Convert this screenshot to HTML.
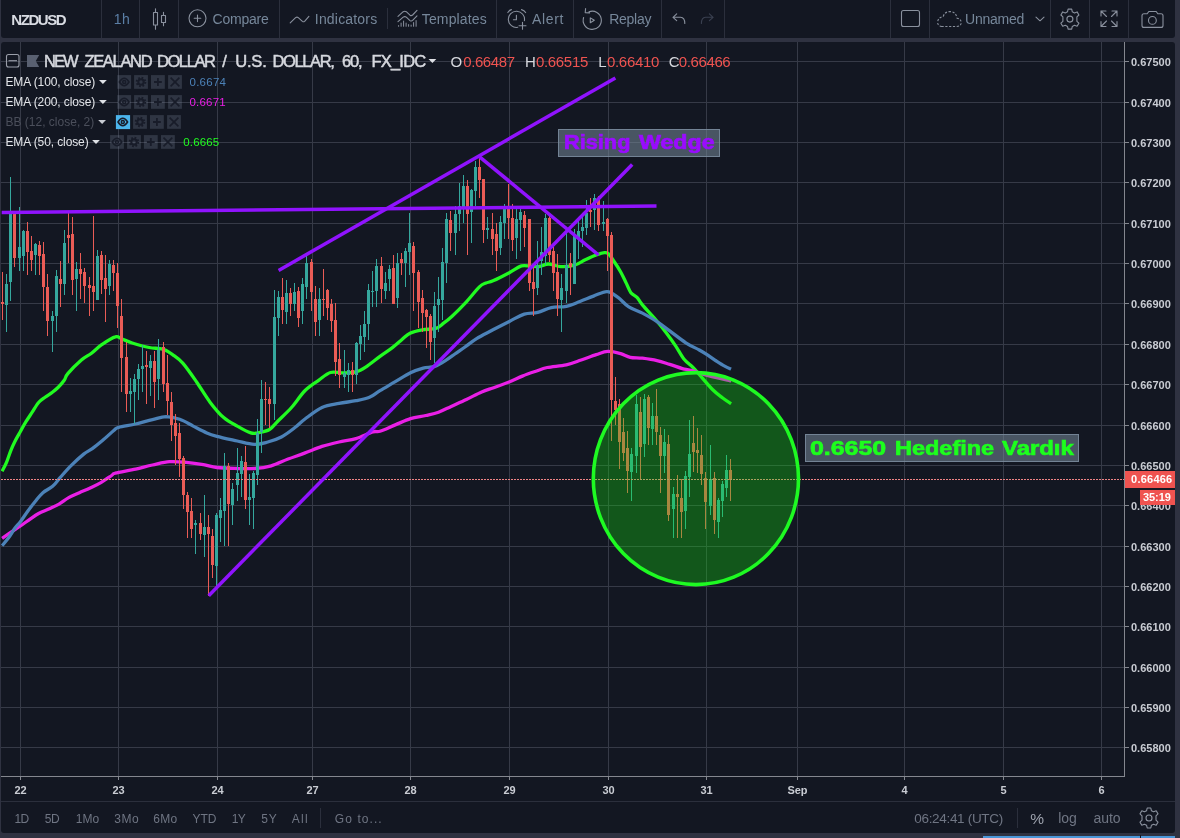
<!DOCTYPE html>
<html><head><meta charset="utf-8"><title>NZDUSD</title>
<style>
*{margin:0;padding:0;box-sizing:border-box}
html,body{width:1180px;height:838px;overflow:hidden;background:#2f3241}
body{position:relative;font-family:"Liberation Sans",sans-serif;color:#d1d4dc}
.panel{position:absolute;background:#131722}
.t{position:absolute;white-space:nowrap;line-height:1;transform-origin:0 50%}
.tb{color:#758696;font-size:14px}
.pl{position:absolute;left:1131px;font-size:11px;font-weight:bold;color:#c9ccd3;line-height:12px;height:12px}
.tl{position:absolute;top:784px;width:41px;text-align:center;font-size:11px;font-weight:bold;color:#c9ccd3;line-height:13px}
.sep{position:absolute;top:0;width:1px;height:38px;background:#2b2f3c}
.ic{position:absolute}
.bt{color:#787b86;font-size:13px}
.lg{font-size:12px;font-weight:bold;color:#d6d8de}
#wrap{position:absolute;left:0;top:0;width:1180px;height:838px;will-change:transform}
</style></head><body><div id="wrap">
<!-- top toolbar -->
<div class="panel" style="left:1px;top:0;width:1174px;height:38px;border-radius:0 0 3px 3px"></div>
<!-- chart panel -->
<div class="panel" style="left:1px;top:42px;width:1174px;height:791px;border-radius:3px"></div>
<svg id="chart" width="1180" height="838" viewBox="0 0 1180 838" style="position:absolute;left:0;top:0">
<defs><clipPath id="cp"><rect x="1" y="42" width="1123.5" height="734"/></clipPath></defs>
<g shape-rendering="crispEdges" stroke="#363a47" stroke-width="1"><line x1="20.5" y1="42" x2="20.5" y2="776"/><line x1="118.5" y1="42" x2="118.5" y2="776"/><line x1="217.5" y1="42" x2="217.5" y2="776"/><line x1="312.5" y1="42" x2="312.5" y2="776"/><line x1="410.5" y1="42" x2="410.5" y2="776"/><line x1="509.5" y1="42" x2="509.5" y2="776"/><line x1="608.5" y1="42" x2="608.5" y2="776"/><line x1="706.5" y1="42" x2="706.5" y2="776"/><line x1="797.5" y1="42" x2="797.5" y2="776"/><line x1="904.5" y1="42" x2="904.5" y2="776"/><line x1="1003.5" y1="42" x2="1003.5" y2="776"/><line x1="1101.5" y1="42" x2="1101.5" y2="776"/><line x1="1" y1="61.5" x2="1124" y2="61.5"/><line x1="1" y1="102.5" x2="1124" y2="102.5"/><line x1="1" y1="142.5" x2="1124" y2="142.5"/><line x1="1" y1="182.5" x2="1124" y2="182.5"/><line x1="1" y1="223.5" x2="1124" y2="223.5"/><line x1="1" y1="263.5" x2="1124" y2="263.5"/><line x1="1" y1="303.5" x2="1124" y2="303.5"/><line x1="1" y1="344.5" x2="1124" y2="344.5"/><line x1="1" y1="384.5" x2="1124" y2="384.5"/><line x1="1" y1="425.5" x2="1124" y2="425.5"/><line x1="1" y1="465.5" x2="1124" y2="465.5"/><line x1="1" y1="505.5" x2="1124" y2="505.5"/><line x1="1" y1="546.5" x2="1124" y2="546.5"/><line x1="1" y1="586.5" x2="1124" y2="586.5"/><line x1="1" y1="626.5" x2="1124" y2="626.5"/><line x1="1" y1="667.5" x2="1124" y2="667.5"/><line x1="1" y1="707.5" x2="1124" y2="707.5"/><line x1="1" y1="747.5" x2="1124" y2="747.5"/></g>
<g clip-path="url(#cp)">
<path d="M2.1 471.2C2.8 469.8 5.0 466.1 6.4 462.7C7.8 459.3 9.3 454.4 10.7 450.8C12.1 447.2 13.4 444.4 15.0 441.2C16.6 438.0 18.6 434.7 20.4 431.5C22.2 428.3 23.8 425.1 25.8 421.9C27.8 418.7 30.1 415.4 32.2 412.2C34.3 409.0 36.5 405.0 38.6 402.5C40.8 400.0 43.0 398.8 45.1 397.2C47.2 395.6 49.4 394.5 51.5 392.9C53.6 391.3 55.9 389.6 58.0 387.5C60.1 385.4 62.8 382.3 64.4 380.0C66.0 377.7 65.0 376.9 67.8 373.6C70.6 370.3 77.5 363.4 81.4 360.0C85.4 356.6 88.1 355.8 91.5 353.2C94.9 350.6 97.7 347.4 101.7 344.7C105.7 342.0 111.9 337.8 115.3 336.9C118.7 335.9 119.2 338.0 122.0 339.0C124.8 340.0 127.7 341.6 132.2 343.0C136.7 344.4 144.1 346.5 149.2 347.5C154.3 348.5 158.8 348.0 162.7 349.2C166.6 350.4 169.5 352.5 172.9 354.9C176.3 357.3 179.1 358.9 183.0 363.4C186.9 367.9 192.1 375.5 196.6 382.0C201.1 388.5 205.7 396.5 210.2 402.4C214.7 408.3 219.2 413.7 223.7 417.6C228.2 421.6 232.8 423.6 237.3 426.1C241.8 428.7 247.4 431.8 250.8 432.9C254.2 434.0 254.5 433.5 257.6 432.9C260.7 432.3 266.1 431.5 269.5 429.5C272.9 427.5 274.3 424.7 278.0 421.0C281.7 417.3 287.0 412.6 291.5 407.5C296.0 402.4 300.6 395.0 305.1 390.5C309.6 386.0 314.4 383.3 318.6 380.3C322.8 377.3 326.5 373.7 330.5 372.5C334.5 371.3 338.2 373.0 342.4 372.9C346.6 372.8 351.9 372.9 355.9 371.9C359.8 370.9 362.1 369.4 366.1 366.8C370.1 364.2 375.6 359.5 380.0 356.3C384.4 353.1 389.0 350.2 392.7 347.4C396.4 344.6 399.1 341.9 402.0 339.5C404.9 337.1 406.6 334.8 410.0 333.2C413.4 331.6 417.9 330.6 422.2 329.8C426.5 329.0 432.2 329.5 435.8 328.4C439.4 327.3 440.9 325.2 443.6 323.2C446.3 321.2 448.4 319.6 452.1 316.2C455.8 312.8 461.1 307.5 465.7 302.6C470.2 297.7 476.0 290.2 479.4 286.9C482.8 283.6 483.7 284.0 486.0 283.0C488.3 282.0 489.1 282.5 493.0 280.8C496.9 279.1 504.6 275.2 509.3 272.7C514.0 270.2 517.9 267.0 521.5 265.9C525.1 264.8 528.0 266.2 531.0 266.3C534.0 266.4 536.3 266.9 539.2 266.5C542.1 266.1 545.0 264.0 548.6 264.0C552.2 264.0 556.5 266.4 560.8 266.6C565.1 266.8 570.3 266.3 574.4 265.2C578.5 264.1 581.7 261.5 585.3 259.8C588.9 258.1 593.0 256.2 596.2 255.0C599.4 253.8 602.4 252.9 604.4 252.7C606.4 252.5 606.8 252.3 608.4 253.7C610.0 255.1 611.8 258.1 613.9 261.2C616.0 264.2 618.7 268.4 620.7 272.0C622.7 275.6 624.4 279.4 626.1 282.9C627.8 286.3 629.1 290.3 630.9 292.7C632.7 295.1 635.1 295.4 637.0 297.4C638.9 299.4 639.1 300.9 642.4 304.9C645.7 308.9 652.9 316.4 657.0 321.2C661.1 326.0 664.0 329.8 667.1 333.9C670.2 338.0 672.8 341.6 675.6 345.8C678.4 350.0 681.3 355.8 684.1 359.3C686.9 362.8 690.0 364.5 692.5 367.0C695.0 369.5 695.7 370.4 699.0 374.2C702.3 377.9 708.5 385.5 712.5 389.5C716.5 393.5 719.6 395.6 722.7 398.0C725.8 400.4 729.8 402.8 731.2 403.7" fill="none" stroke="#21fb21" stroke-width="3.3" stroke-linejoin="round" stroke-linecap="butt"/>
<path d="M2.1 538.4C3.5 537.4 7.7 534.5 10.7 532.4C13.7 530.3 17.2 528.2 20.4 526.0C23.6 523.8 27.1 521.2 30.1 519.1C33.1 517.0 35.4 515.2 38.6 513.5C41.8 511.8 46.0 510.4 49.4 508.8C52.8 507.2 55.8 506.0 59.0 504.1C62.2 502.2 65.3 499.5 68.7 497.6C72.1 495.7 75.8 494.3 79.4 492.7C83.0 491.1 86.6 489.7 90.2 488.0C93.8 486.3 97.3 484.7 100.9 482.6C104.5 480.5 109.2 477.1 111.6 475.5C114.0 473.9 111.3 474.2 115.3 473.2C119.3 472.1 129.4 470.6 135.6 469.2C141.8 467.8 146.8 466.2 152.5 465.0C158.2 463.8 163.8 462.1 169.5 461.7C175.2 461.3 180.8 461.9 186.4 462.4C192.1 462.9 198.3 463.8 203.4 464.7C208.5 465.6 211.3 466.9 217.0 467.5C222.7 468.1 231.1 468.3 237.3 468.5C243.5 468.7 248.5 468.9 254.2 468.5C259.8 468.1 265.5 467.4 271.2 465.8C276.9 464.2 282.5 461.1 288.1 459.0C293.8 456.9 299.5 455.0 305.1 452.9C310.8 450.8 316.4 448.2 322.0 446.4C327.6 444.6 333.3 443.3 339.0 442.0C344.7 440.7 350.4 440.3 356.0 438.6C361.6 436.9 368.9 433.1 372.9 431.9C376.9 430.7 376.3 432.5 380.0 431.3C383.7 430.1 390.2 427.0 395.3 424.9C400.4 422.8 405.4 420.2 410.5 418.6C415.6 417.0 421.1 416.6 425.8 415.5C430.5 414.4 434.3 413.7 438.5 412.2C442.7 410.7 446.6 408.5 451.2 406.4C455.8 404.3 461.3 401.9 466.4 399.5C471.5 397.1 477.0 393.9 481.7 391.9C486.4 389.9 489.7 389.2 494.4 387.5C499.1 385.8 505.0 383.6 509.7 381.7C514.4 379.8 518.2 377.8 522.4 376.1C526.6 374.4 531.0 372.9 535.1 371.5C539.2 370.1 542.0 368.6 547.2 367.5C552.4 366.4 560.6 366.1 566.3 364.8C572.0 363.6 576.2 361.7 581.2 360.0C586.2 358.3 591.8 356.0 596.2 354.6C600.6 353.2 603.7 351.6 607.8 351.4C611.9 351.2 617.0 352.6 620.7 353.6C624.4 354.6 626.6 356.5 630.2 357.3C633.8 358.1 637.9 357.6 642.4 358.2C646.9 358.8 652.5 359.6 657.0 360.6C661.5 361.6 665.5 363.1 669.7 364.4C673.9 365.7 678.9 367.6 682.4 368.6C685.9 369.6 686.3 369.1 690.8 370.3C695.3 371.5 702.5 374.1 709.2 375.9C715.9 377.7 727.5 380.1 731.2 381.0" fill="none" stroke="#ea1fe6" stroke-width="3.3" stroke-linejoin="round" stroke-linecap="butt"/>
<path d="M2.1 545.7C3.2 544.4 6.4 540.7 8.6 537.8C10.8 534.9 13.0 530.8 15.0 528.1C17.0 525.4 18.2 524.6 20.4 521.7C22.5 518.9 25.4 514.4 27.9 511.0C30.4 507.6 32.9 504.4 35.4 501.3C37.9 498.2 40.0 495.2 42.9 492.7C45.8 490.2 49.7 488.8 52.6 486.3C55.5 483.8 57.1 481.1 60.1 477.7C63.1 474.3 66.9 469.8 70.8 465.9C74.7 462.0 80.1 457.0 83.7 454.1C87.3 451.2 89.1 451.0 92.3 448.7C95.5 446.4 99.4 443.1 103.0 440.1C106.6 437.1 111.2 432.6 113.8 430.5C116.4 428.4 115.0 428.4 118.6 427.3C122.2 426.2 129.9 425.3 135.6 424.0C141.2 422.7 147.4 420.8 152.5 419.6C157.6 418.4 161.5 416.7 166.0 416.6C170.5 416.6 175.2 417.7 179.7 419.3C184.2 420.9 188.7 423.8 193.2 426.1C197.7 428.4 202.8 431.2 206.8 432.9C210.8 434.6 211.9 434.9 217.0 436.3C222.1 437.7 231.1 439.6 237.3 441.0C243.5 442.4 249.1 444.2 254.2 444.4C259.3 444.6 263.3 443.2 267.8 442.0C272.3 440.8 276.9 439.4 281.4 437.0C285.9 434.6 291.1 430.5 295.0 427.5C298.9 424.5 300.5 422.3 305.0 419.0C309.5 415.7 316.3 410.1 322.0 407.5C327.7 404.9 333.3 404.5 339.0 403.4C344.7 402.3 350.9 401.7 356.0 400.7C361.1 399.7 365.5 399.0 369.5 397.3C373.5 395.6 375.7 393.2 380.0 390.6C384.3 388.0 390.2 384.7 395.3 381.7C400.4 378.7 405.9 375.1 410.5 372.8C415.1 370.6 419.2 369.3 423.2 368.2C427.2 367.1 430.9 367.8 434.7 366.4C438.5 365.0 442.7 362.2 446.1 360.1C449.5 358.0 451.8 356.2 454.9 354.0C458.0 351.8 461.4 349.6 465.0 347.0C468.6 344.4 471.9 341.5 476.6 338.6C481.3 335.7 487.6 332.7 493.0 329.8C498.4 326.9 504.1 324.0 509.3 321.4C514.5 318.8 519.6 315.6 524.3 314.1C529.0 312.6 533.2 313.5 537.7 312.4C542.2 311.3 546.5 308.6 551.3 307.6C556.1 306.6 561.5 307.3 566.3 306.3C571.1 305.3 575.4 303.2 579.9 301.5C584.4 299.8 589.0 297.8 593.5 296.1C598.0 294.5 603.0 291.4 607.1 291.6C611.2 291.8 614.4 294.8 618.0 297.4C621.6 299.9 624.7 304.3 628.8 306.9C632.9 309.5 637.7 310.7 642.4 313.1C647.1 315.6 652.5 318.6 657.0 321.6C661.5 324.6 664.9 327.4 669.7 330.9C674.5 334.4 680.9 339.6 685.8 342.8C690.7 346.0 695.6 347.9 699.3 350.0C703.0 352.1 705.0 353.3 707.8 355.1C710.6 356.9 713.5 359.2 716.3 361.0C719.1 362.8 722.2 364.8 724.7 366.1C727.2 367.5 730.0 368.6 731.1 369.1" fill="none" stroke="#4c82b8" stroke-width="3.3" stroke-linejoin="round" stroke-linecap="butt"/>
<path shape-rendering="crispEdges" fill="#35a79d" d="M6 274h1v58h-1zM5 284h3v21h-3zM10 177h1v124h-1zM9 214h3v68h-3zM19 207h1v64h-1zM18 247h3v11h-3zM23 230h1v41h-1zM22 231h3v25h-3zM35 243h1v32h-1zM34 244h3v11h-3zM52 311h1v41h-1zM51 316h3v5h-3zM56 270h1v62h-1zM55 276h3v40h-3zM64 230h1v65h-1zM63 243h3v41h-3zM76 262h1v49h-1zM75 269h3v10h-3zM97 250h1v50h-1zM96 256h3v44h-3zM109 260h1v35h-1zM108 264h3v22h-3zM130 378h1v34h-1zM129 391h3v3h-3zM134 374h1v50h-1zM133 379h3v13h-3zM138 364h1v36h-1zM137 369h3v10h-3zM142 345h1v47h-1zM141 366h3v3h-3zM150 355h1v41h-1zM149 361h3v7h-3zM158 339h1v61h-1zM157 350h3v29h-3zM195 520h1v34h-1zM194 523h3v2h-3zM204 495h1v62h-1zM203 527h3v8h-3zM216 513h1v73h-1zM215 515h3v51h-3zM220 498h1v44h-1zM219 510h3v8h-3zM224 453h1v93h-1zM223 466h3v45h-3zM232 483h1v42h-1zM231 489h3v16h-3zM237 448h1v53h-1zM236 473h3v12h-3zM241 456h1v41h-1zM240 461h3v13h-3zM249 474h1v51h-1zM248 497h3v3h-3zM253 471h1v58h-1zM252 473h3v25h-3zM257 419h1v66h-1zM256 433h3v42h-3zM261 380h1v73h-1zM260 399h3v33h-3zM274 290h1v130h-1zM273 317h3v87h-3zM278 291h1v45h-1zM277 297h3v21h-3zM286 280h1v44h-1zM285 293h3v19h-3zM294 283h1v28h-1zM293 292h3v12h-3zM302 278h1v46h-1zM301 284h3v27h-3zM306 256h1v43h-1zM305 263h3v24h-3zM319 288h1v48h-1zM318 299h3v21h-3zM344 350h1v38h-1zM343 373h3v4h-3zM348 363h1v29h-1zM347 370h3v5h-3zM356 342h1v42h-1zM355 343h3v32h-3zM360 325h1v35h-1zM359 336h3v8h-3zM364 311h1v41h-1zM363 324h3v13h-3zM368 284h1v56h-1zM367 290h3v34h-3zM372 271h1v36h-1zM371 291h3v1h-3zM376 259h1v48h-1zM375 266h3v25h-3zM385 272h1v27h-1zM384 283h3v8h-3zM389 265h1v26h-1zM388 269h3v10h-3zM397 253h1v55h-1zM396 263h3v35h-3zM405 248h1v39h-1zM404 251h3v12h-3zM409 213h1v62h-1zM408 243h3v9h-3zM434 292h1v71h-1zM433 306h3v32h-3zM438 277h1v55h-1zM437 299h3v6h-3zM442 248h1v72h-1zM441 262h3v38h-3zM446 213h1v70h-1zM445 219h3v44h-3zM455 206h1v49h-1zM454 214h3v19h-3zM459 183h1v48h-1zM458 206h3v8h-3zM463 175h1v48h-1zM462 186h3v21h-3zM471 189h1v54h-1zM470 190h3v22h-3zM475 161h1v45h-1zM474 167h3v24h-3zM487 217h1v22h-1zM486 228h3v2h-3zM500 216h1v39h-1zM499 222h3v26h-3zM504 204h1v35h-1zM503 209h3v14h-3zM516 209h1v50h-1zM515 219h3v19h-3zM520 209h1v42h-1zM519 212h3v8h-3zM537 241h1v54h-1zM536 265h3v23h-3zM541 227h1v48h-1zM540 252h3v9h-3zM545 214h1v51h-1zM544 218h3v38h-3zM561 274h1v58h-1zM560 288h3v12h-3zM566 232h1v71h-1zM565 265h3v26h-3zM574 229h1v55h-1zM573 235h3v49h-3zM578 221h1v38h-1zM577 231h3v7h-3zM582 216h1v31h-1zM581 227h3v4h-3zM586 200h1v35h-1zM585 213h3v15h-3zM594 194h1v36h-1zM593 198h3v12h-3zM603 201h1v30h-1zM602 222h3v2h-3zM631 448h1v53h-1zM630 454h3v18h-3zM636 395h1v78h-1zM635 404h3v52h-3zM644 394h1v63h-1zM643 399h3v45h-3zM652 403h1v42h-1zM651 416h3v13h-3zM664 429h1v44h-1zM663 442h3v14h-3zM673 487h1v51h-1zM672 494h3v15h-3zM685 471h1v58h-1zM684 476h3v35h-3zM689 420h1v77h-1zM688 454h3v23h-3zM710 445h1v70h-1zM709 479h3v27h-3zM718 498h1v40h-1zM717 500h3v22h-3zM722 481h1v36h-1zM721 484h3v17h-3zM726 455h1v42h-1zM725 470h3v18h-3z"/>
<path shape-rendering="crispEdges" fill="#ea5c56" d="M2 272h1v48h-1zM1 302h3v2h-3zM14 214h1v53h-1zM13 214h3v44h-3zM27 222h1v53h-1zM26 231h3v21h-3zM31 236h1v35h-1zM30 251h3v9h-3zM39 241h1v34h-1zM38 245h3v11h-3zM43 242h1v69h-1zM42 254h3v33h-3zM47 274h1v62h-1zM46 287h3v34h-3zM60 261h1v46h-1zM59 279h3v5h-3zM68 213h1v50h-1zM67 235h3v3h-3zM72 217h1v78h-1zM71 234h3v46h-3zM80 253h1v46h-1zM79 269h3v5h-3zM84 268h1v35h-1zM83 272h3v14h-3zM89 277h1v39h-1zM88 285h3v3h-3zM93 216h1v95h-1zM92 286h3v6h-3zM101 251h1v43h-1zM100 255h3v25h-3zM105 255h1v67h-1zM104 278h3v11h-3zM113 260h1v31h-1zM112 265h3v8h-3zM117 263h1v65h-1zM116 273h3v33h-3zM121 299h1v93h-1zM120 316h3v42h-3zM126 342h1v70h-1zM125 357h3v37h-3zM146 351h1v53h-1zM145 365h3v2h-3zM154 351h1v57h-1zM153 361h3v21h-3zM163 342h1v50h-1zM162 347h3v37h-3zM167 355h1v60h-1zM166 383h3v18h-3zM171 392h1v49h-1zM170 402h3v23h-3zM175 414h1v51h-1zM174 423h3v13h-3zM179 423h1v54h-1zM178 433h3v26h-3zM183 456h1v53h-1zM182 458h3v37h-3zM187 492h1v46h-1zM186 495h3v17h-3zM191 498h1v40h-1zM190 511h3v18h-3zM200 513h1v27h-1zM199 523h3v11h-3zM208 515h1v81h-1zM207 527h3v7h-3zM212 529h1v49h-1zM211 536h3v29h-3zM228 463h1v83h-1zM227 466h3v38h-3zM245 446h1v63h-1zM244 462h3v38h-3zM265 382h1v43h-1zM264 399h3v1h-3zM269 387h1v41h-1zM268 399h3v5h-3zM282 278h1v46h-1zM281 297h3v13h-3zM290 288h1v28h-1zM289 293h3v11h-3zM298 287h1v40h-1zM297 291h3v27h-3zM311 259h1v52h-1zM310 262h3v30h-3zM315 286h1v50h-1zM314 299h3v23h-3zM323 269h1v47h-1zM322 299h3v1h-3zM327 289h1v31h-1zM326 290h3v18h-3zM331 299h1v33h-1zM330 304h3v17h-3zM335 303h1v73h-1zM334 320h3v42h-3zM339 343h1v45h-1zM338 359h3v16h-3zM352 362h1v30h-1zM351 370h3v5h-3zM381 257h1v46h-1zM380 266h3v23h-3zM393 255h1v49h-1zM392 268h3v36h-3zM401 253h1v22h-1zM400 259h3v4h-3zM413 242h1v69h-1zM412 246h3v27h-3zM418 270h1v58h-1zM417 272h3v30h-3zM422 290h1v42h-1zM421 298h3v15h-3zM426 309h1v39h-1zM425 310h3v7h-3zM430 314h1v46h-1zM429 316h3v26h-3zM450 211h1v40h-1zM449 220h3v13h-3zM467 180h1v75h-1zM466 186h3v28h-3zM479 159h1v39h-1zM478 167h3v13h-3zM483 179h1v64h-1zM482 179h3v51h-3zM492 213h1v42h-1zM491 229h3v10h-3zM496 223h1v48h-1zM495 234h3v17h-3zM508 184h1v55h-1zM507 209h3v9h-3zM512 204h1v47h-1zM511 218h3v22h-3zM524 211h1v36h-1zM523 215h3v13h-3zM529 219h1v72h-1zM528 219h3v64h-3zM533 267h1v49h-1zM532 282h3v7h-3zM549 216h1v46h-1zM548 218h3v37h-3zM553 247h1v44h-1zM552 251h3v22h-3zM557 254h1v62h-1zM556 272h3v27h-3zM570 253h1v42h-1zM569 263h3v4h-3zM590 198h1v29h-1zM589 210h3v2h-3zM598 196h1v35h-1zM597 199h3v26h-3zM607 218h1v53h-1zM606 219h3v17h-3zM611 232h1v209h-1zM610 235h3v165h-3zM615 377h1v48h-1zM614 401h3v9h-3zM619 399h1v70h-1zM618 404h3v38h-3zM623 418h1v43h-1zM622 432h3v21h-3zM627 431h1v62h-1zM626 448h3v23h-3zM640 397h1v83h-1zM639 412h3v35h-3zM648 395h1v50h-1zM647 397h3v31h-3zM656 389h1v56h-1zM655 416h3v16h-3zM660 427h1v66h-1zM659 435h3v21h-3zM668 435h1v86h-1zM667 444h3v71h-3zM677 475h1v63h-1zM676 494h3v3h-3zM681 479h1v59h-1zM680 498h3v14h-3zM693 416h1v56h-1zM692 443h3v9h-3zM697 428h1v45h-1zM696 450h3v3h-3zM701 435h1v50h-1zM700 455h3v19h-3zM705 472h1v57h-1zM704 478h3v24h-3zM714 472h1v62h-1zM713 478h3v42h-3zM730 459h1v42h-1zM729 470h3v10h-3z"/>
<line x1="1" y1="479.5" x2="1124" y2="479.5" stroke="#ee8385" stroke-width="1" stroke-dasharray="2 1" shape-rendering="crispEdges"/>
<line x1="1.7" y1="212.5" x2="656.5" y2="206.0" stroke="#9013fe" stroke-width="3.5"/>
<line x1="278.6" y1="270.4" x2="615.4" y2="78.0" stroke="#9013fe" stroke-width="3.5"/>
<line x1="208.7" y1="595.7" x2="632.2" y2="164.6" stroke="#9013fe" stroke-width="3.5"/>
<line x1="479.6" y1="156.8" x2="598.6" y2="255.0" stroke="#9013fe" stroke-width="3.5"/>
<ellipse cx="695.9" cy="478.6" rx="102.6" ry="106" fill="rgba(18,235,14,0.30)" stroke="#1efa22" stroke-width="3.6"/>
</g>
<g shape-rendering="crispEdges" stroke="#84878f" stroke-width="1">
<line x1="1" y1="776.5" x2="1125" y2="776.5"/><line x1="1124.5" y1="42" x2="1124.5" y2="777"/>
<line x1="20.5" y1="777" x2="20.5" y2="780"/>
<line x1="118.5" y1="777" x2="118.5" y2="780"/>
<line x1="217.5" y1="777" x2="217.5" y2="780"/>
<line x1="312.5" y1="777" x2="312.5" y2="780"/>
<line x1="410.5" y1="777" x2="410.5" y2="780"/>
<line x1="509.5" y1="777" x2="509.5" y2="780"/>
<line x1="608.5" y1="777" x2="608.5" y2="780"/>
<line x1="706.5" y1="777" x2="706.5" y2="780"/>
<line x1="797.5" y1="777" x2="797.5" y2="780"/>
<line x1="904.5" y1="777" x2="904.5" y2="780"/>
<line x1="1003.5" y1="777" x2="1003.5" y2="780"/>
<line x1="1101.5" y1="777" x2="1101.5" y2="780"/>
<line x1="1125" y1="61.5" x2="1129" y2="61.5"/>
<line x1="1125" y1="102.5" x2="1129" y2="102.5"/>
<line x1="1125" y1="142.5" x2="1129" y2="142.5"/>
<line x1="1125" y1="182.5" x2="1129" y2="182.5"/>
<line x1="1125" y1="223.5" x2="1129" y2="223.5"/>
<line x1="1125" y1="263.5" x2="1129" y2="263.5"/>
<line x1="1125" y1="303.5" x2="1129" y2="303.5"/>
<line x1="1125" y1="344.5" x2="1129" y2="344.5"/>
<line x1="1125" y1="384.5" x2="1129" y2="384.5"/>
<line x1="1125" y1="425.5" x2="1129" y2="425.5"/>
<line x1="1125" y1="465.5" x2="1129" y2="465.5"/>
<line x1="1125" y1="505.5" x2="1129" y2="505.5"/>
<line x1="1125" y1="546.5" x2="1129" y2="546.5"/>
<line x1="1125" y1="586.5" x2="1129" y2="586.5"/>
<line x1="1125" y1="626.5" x2="1129" y2="626.5"/>
<line x1="1125" y1="667.5" x2="1129" y2="667.5"/>
<line x1="1125" y1="707.5" x2="1129" y2="707.5"/>
<line x1="1125" y1="747.5" x2="1129" y2="747.5"/>
</g>
</svg>

<svg width="1180" height="838" viewBox="0 0 1180 838" style="position:absolute;left:0;top:0" fill="none" stroke="#8a919e" stroke-width="1.1" stroke-linecap="round" stroke-linejoin="round">
<!-- candle icon -->
<path d="M155.5 8.8V12.5M155.5 25V29.2M153.5 12.5h4v12.5h-4zM163.5 12.2V15.5M163.5 22.5V25.8M161.5 15.5h4v7h-4z"/>
<!-- compare -->
<circle cx="197.5" cy="18.3" r="8.5"/><path d="M194.2 18.3h6.6M197.5 15v6.6"/>
<!-- indicators -->
<path d="M290.2 22.8L295.6 17.6Q297 16.6 298.3 17.6L302.4 21.4Q303.5 22.2 304.6 21.4L308.9 16.3"/>
<!-- templates -->
<path d="M398 16.3L403.2 11.7Q404.8 10.7 406.3 11.7L410 15.2Q411.3 16.2 412.6 15L417 10.4M398 21.7L403.2 17.1Q404.8 16.1 406.3 17.1L410 20.6Q411.3 21.6 412.6 20.4L417 15.8"/>
<path stroke-linecap="butt" stroke-width="1" d="M398.6 26.7v-1.5M401.1 26.7v-4M403.6 26.7v-6M406.1 26.7v-4M408.6 26.7v-2.5M411.1 26.7v-2M413.6 26.7v-4.5M416.1 26.7v-6.5"/>
<!-- alert -->
<path d="M517.8 27.3A8.1 8.1 0 1 1 524.4 20.7M516.4 15.3V19.7H513.4M507.9 12.6Q509 10.3 511.4 9.6M521.5 9.6Q524.3 10.3 525.6 12.6M522.5 22.3v7M519 25.8h7"/>
<!-- replay -->
<path d="M589 11.8A9.1 9.1 0 1 1 583.6 17.5M585.6 8.6L585.2 12.6L589.6 12.9M590.3 17.9V22.8L594.3 20.3Z"/>
<!-- undo / redo -->
<path d="M676.7 13.8L673 17.3L676.7 20.7M673 17.3H680.5Q684.8 17.6 684.8 23.4"/>
<path stroke="#3a4050" d="M709.4 13.8L713.1 17.3L709.4 20.7M713.1 17.3H705.6Q701.4 17.6 701.4 23.4"/>
<!-- rect -->
<rect x="901.5" y="10.5" width="18" height="16" rx="2"/>
<!-- cloud -->
<path stroke-dasharray="2.2 1.6" stroke-linecap="butt" d="M941.5 26.5H957Q961.3 26 961.2 22.2Q960.8 18.6 957 18.2Q956.2 12 950 11.5Q944.6 11.7 943.2 16.6Q938.2 17.4 937.6 22Q937.6 25.8 941.5 26.5Z"/>
<!-- chevron -->
<path d="M1036 17.2L1040 20.8L1044 17.2"/>
<!-- gear top -->
<g transform="translate(1069.9 19.1)"><path d="M-1.8 -10L1.8 -10L2.4 -7.3L4.6 -6.2L7.2 -7.2L9 -4.1L7 -2.2L7 2.2L9 4.1L7.2 7.2L4.6 6.2L2.4 7.3L1.8 10L-1.8 10L-2.4 7.3L-4.6 6.2L-7.2 7.2L-9 4.1L-7 2.2L-7 -2.2L-9 -4.1L-7.2 -7.2L-4.6 -6.2L-2.4 -7.3Z"/><circle r="3"/></g>
<!-- fullscreen -->
<path d="M1101 16V11H1106M1101 11L1106.5 16.5M1112 11H1117V16M1117 11L1111.5 16.5M1101 21.5V26.5H1106M1101 26.5L1106.5 21M1117 21.5V26.5H1112M1117 26.5L1111.5 21"/>
<!-- camera -->
<path d="M1144 13.8H1147.2L1148.8 11.5H1156.2L1157.8 13.8H1161Q1163 13.8 1163 15.8V25.4Q1163 27.4 1161 27.4H1144Q1142 27.4 1142 25.4V15.8Q1142 13.8 1144 13.8Z"/><circle cx="1152.4" cy="20.4" r="3.9"/>
<!-- gear bottom -->
<g transform="translate(1149 818) scale(1.0)"><path d="M-1.8 -10L1.8 -10L2.4 -7.3L4.6 -6.2L7.2 -7.2L9 -4.1L7 -2.2L7 2.2L9 4.1L7.2 7.2L4.6 6.2L2.4 7.3L1.8 10L-1.8 10L-2.4 7.3L-4.6 6.2L-7.2 7.2L-9 4.1L-7 2.2L-7 -2.2L-9 -4.1L-7.2 -7.2L-4.6 -6.2L-2.4 -7.3Z"/><circle r="3"/></g>
<g><rect x="117.3" y="75.1" width="13.8" height="13.7" fill="rgba(125,135,160,0.27)" stroke="none"/><path stroke="#181c29" stroke-width="1.6" d="M119.4 82.0Q124.2 74.6 129.0 82.0Q124.2 89.4 119.4 82.0Z"/><circle cx="124.2" cy="82.0" r="1.5" stroke="#181c29" stroke-width="1.5"/><rect x="134.1" y="75.1" width="13.8" height="13.7" fill="rgba(125,135,160,0.27)" stroke="none"/><circle cx="141.0" cy="82.0" r="2.7" stroke="#181c29" stroke-width="2"/><circle cx="141.0" cy="82.0" r="4.3" stroke="#181c29" stroke-width="2" stroke-dasharray="1.7 1.68" stroke-linecap="butt"/><rect x="151.0" y="75.1" width="13.8" height="13.7" fill="rgba(125,135,160,0.27)" stroke="none"/><path stroke="#181c29" stroke-width="1.8" stroke-linecap="butt" d="M154.0 82.0h7.8M157.9 78.1v7.8"/><rect x="168.1" y="75.1" width="13.8" height="13.7" fill="rgba(125,135,160,0.27)" stroke="none"/><path stroke="#181c29" stroke-width="1.6" stroke-linecap="butt" d="M170.6 77.6l8.8 8.8M179.4 77.6l-8.8 8.8"/><rect x="117.3" y="95.1" width="13.8" height="13.7" fill="rgba(125,135,160,0.27)" stroke="none"/><path stroke="#181c29" stroke-width="1.6" d="M119.4 102.0Q124.2 94.6 129.0 102.0Q124.2 109.4 119.4 102.0Z"/><circle cx="124.2" cy="102.0" r="1.5" stroke="#181c29" stroke-width="1.5"/><rect x="134.1" y="95.1" width="13.8" height="13.7" fill="rgba(125,135,160,0.27)" stroke="none"/><circle cx="141.0" cy="102.0" r="2.7" stroke="#181c29" stroke-width="2"/><circle cx="141.0" cy="102.0" r="4.3" stroke="#181c29" stroke-width="2" stroke-dasharray="1.7 1.68" stroke-linecap="butt"/><rect x="151.0" y="95.1" width="13.8" height="13.7" fill="rgba(125,135,160,0.27)" stroke="none"/><path stroke="#181c29" stroke-width="1.8" stroke-linecap="butt" d="M154.0 102.0h7.8M157.9 98.1v7.8"/><rect x="168.1" y="95.1" width="13.8" height="13.7" fill="rgba(125,135,160,0.27)" stroke="none"/><path stroke="#181c29" stroke-width="1.6" stroke-linecap="butt" d="M170.6 97.6l8.8 8.8M179.4 97.6l-8.8 8.8"/><rect x="115.9" y="115.1" width="14.2" height="14" fill="#4bb4eb" stroke="none"/><path stroke="#181c29" stroke-width="1.6" d="M118.0 122.0Q122.8 114.6 127.6 122.0Q122.8 129.4 118.0 122.0Z"/><circle cx="122.8" cy="122.0" r="1.5" stroke="#181c29" stroke-width="1.5"/><rect x="133.1" y="115.1" width="13.8" height="13.7" fill="rgba(125,135,160,0.27)" stroke="none"/><circle cx="140.0" cy="122.0" r="2.7" stroke="#181c29" stroke-width="2"/><circle cx="140.0" cy="122.0" r="4.3" stroke="#181c29" stroke-width="2" stroke-dasharray="1.7 1.68" stroke-linecap="butt"/><rect x="150.0" y="115.1" width="13.8" height="13.7" fill="rgba(125,135,160,0.27)" stroke="none"/><path stroke="#181c29" stroke-width="1.8" stroke-linecap="butt" d="M153.0 122.0h7.8M156.9 118.1v7.8"/><rect x="167.1" y="115.1" width="13.8" height="13.7" fill="rgba(125,135,160,0.27)" stroke="none"/><path stroke="#181c29" stroke-width="1.6" stroke-linecap="butt" d="M169.6 117.6l8.8 8.8M178.4 117.6l-8.8 8.8"/><rect x="110.1" y="135.1" width="13.8" height="13.7" fill="rgba(125,135,160,0.27)" stroke="none"/><path stroke="#181c29" stroke-width="1.6" d="M112.2 142.0Q117.0 134.6 121.8 142.0Q117.0 149.4 112.2 142.0Z"/><circle cx="117.0" cy="142.0" r="1.5" stroke="#181c29" stroke-width="1.5"/><rect x="127.1" y="135.1" width="13.8" height="13.7" fill="rgba(125,135,160,0.27)" stroke="none"/><circle cx="134.0" cy="142.0" r="2.7" stroke="#181c29" stroke-width="2"/><circle cx="134.0" cy="142.0" r="4.3" stroke="#181c29" stroke-width="2" stroke-dasharray="1.7 1.68" stroke-linecap="butt"/><rect x="143.9" y="135.1" width="13.8" height="13.7" fill="rgba(125,135,160,0.27)" stroke="none"/><path stroke="#181c29" stroke-width="1.8" stroke-linecap="butt" d="M146.9 142.0h7.8M150.8 138.1v7.8"/><rect x="161.0" y="135.1" width="13.8" height="13.7" fill="rgba(125,135,160,0.27)" stroke="none"/><path stroke="#181c29" stroke-width="1.6" stroke-linecap="butt" d="M163.5 137.6l8.8 8.8M172.3 137.6l-8.8 8.8"/><path fill="#dfe1e6" stroke="none" d="M99.0 79.9h7.8l-3.9 4z"/><path fill="#dfe1e6" stroke="none" d="M99.0 99.9h7.8l-3.9 4z"/><path fill="#c9ccd3" stroke="none" d="M98.2 119.9h7.8l-3.9 4z"/><path fill="#dfe1e6" stroke="none" d="M92.1 140.0h7.8l-3.9 4z"/><path fill="#dfe1e6" stroke="none" d="M428.5 59.1h7.8l-3.9 4z"/></g>
<!-- legend: collapse + flag -->
<rect x="6.5" y="54.5" width="12.5" height="12.5" rx="2" stroke="#9a9ea9"/><path stroke="#9a9ea9" d="M8.5 60.7h8.5" stroke-linecap="butt"/>
<path fill="#596071" stroke="none" d="M27 55H39.2L35.8 61L39.2 67H27Z"/>
</svg>
<div id="top">
<div class="sep" style="left:101px"></div><div class="sep" style="left:139px"></div><div class="sep" style="left:178px"></div><div class="sep" style="left:279px"></div>
<div class="sep" style="left:387px;top:8px;height:21px"></div>
<div class="sep" style="left:496px"></div><div class="sep" style="left:573px"></div><div class="sep" style="left:661px"></div><div class="sep" style="left:724px"></div>
<div class="sep" style="left:890px"></div><div class="sep" style="left:929px"></div><div class="sep" style="left:1050px"></div><div class="sep" style="left:1089px"></div><div class="sep" style="left:1128px"></div>








</div>
<!-- legend -->
<div id="legend">









</div>
<!-- text notes -->
<div style="position:absolute;left:558px;top:129px;width:162px;height:28px;background:rgba(119,136,153,0.55);border:1px solid rgba(119,136,153,0.92)"></div>
<span class="t" style="left:563.7px;top:131.9px;font-size:20.5px;font-weight:bold;color:#9a0cff;-webkit-text-stroke:0.7px #9a0cff;transform:scaleX(1.060)">Rising</span><span class="t" style="left:639.2px;top:131.9px;font-size:20.5px;font-weight:bold;color:#9a0cff;-webkit-text-stroke:0.7px #9a0cff;transform:scaleX(1.130)">Wedge</span>
<div style="position:absolute;left:805px;top:434px;width:274px;height:28px;background:rgba(119,136,153,0.55);border:1px solid rgba(119,136,153,0.92)"></div>
<span class="t" style="left:809.8px;top:437.6px;font-size:20.5px;font-weight:bold;color:#1dff1d;-webkit-text-stroke:0.7px #1dff1d;transform:scaleX(1.215)">0.6650</span><span class="t" style="left:894.6px;top:437.6px;font-size:20.5px;font-weight:bold;color:#1dff1d;-webkit-text-stroke:0.7px #1dff1d;transform:scaleX(1.145)">Hedefine</span><span class="t" style="left:1001.5px;top:437.6px;font-size:20.5px;font-weight:bold;color:#1dff1d;-webkit-text-stroke:0.7px #1dff1d;transform:scaleX(1.167)">Vardık</span>
<div class="pl" style="top:56.3px">0.67500</div><div class="pl" style="top:97.3px">0.67400</div><div class="pl" style="top:137.3px">0.67300</div><div class="pl" style="top:177.3px">0.67200</div><div class="pl" style="top:218.3px">0.67100</div><div class="pl" style="top:258.3px">0.67000</div><div class="pl" style="top:298.3px">0.66900</div><div class="pl" style="top:339.3px">0.66800</div><div class="pl" style="top:379.3px">0.66700</div><div class="pl" style="top:420.3px">0.66600</div><div class="pl" style="top:460.3px">0.66500</div><div class="pl" style="top:500.3px">0.66400</div><div class="pl" style="top:541.3px">0.66300</div><div class="pl" style="top:581.3px">0.66200</div><div class="pl" style="top:621.3px">0.66100</div><div class="pl" style="top:662.3px">0.66000</div><div class="pl" style="top:702.3px">0.65900</div><div class="pl" style="top:742.3px">0.65800</div>
<div style="position:absolute;left:1125px;top:471px;width:50px;height:17px;background:#ef5350"></div><div style="position:absolute;left:1140px;top:490px;width:35px;height:15px;background:#ef5350"></div>
<span class="t" style="left:11.3px;top:12.3px;font-size:15px;font-weight:bold;color:#d9dce3;letter-spacing:-1.42px">NZDUSD</span><span class="t" style="left:113.8px;top:12.3px;font-size:14px;font-weight:normal;color:#5b7fa6;letter-spacing:0.32px">1h</span><span class="t" style="left:212.5px;top:12.3px;font-size:14px;font-weight:normal;color:#76879a;letter-spacing:-0.22px">Compare</span><span class="t" style="left:314.8px;top:12.3px;font-size:14px;font-weight:normal;color:#76879a;letter-spacing:0.19px">Indicators</span><span class="t" style="left:421.8px;top:12.3px;font-size:14px;font-weight:normal;color:#76879a;letter-spacing:0.14px">Templates</span><span class="t" style="left:532.0px;top:12.3px;font-size:14px;font-weight:normal;color:#76879a;letter-spacing:0.68px">Alert</span><span class="t" style="left:609.3px;top:12.3px;font-size:14px;font-weight:normal;color:#76879a;letter-spacing:-0.30px">Replay</span><span class="t" style="left:965.0px;top:12.3px;font-size:14px;font-weight:normal;color:#76879a;letter-spacing:-0.22px">Unnamed</span><span class="t" style="left:44.0px;top:53.0px;font-size:16.5px;font-weight:normal;-webkit-text-stroke:0.5px #d6d8de;color:#d6d8de;letter-spacing:-1.90px">NEW</span><span class="t" style="left:84.4px;top:53.0px;font-size:16.5px;font-weight:normal;-webkit-text-stroke:0.5px #d6d8de;color:#d6d8de;letter-spacing:-1.32px">ZEALAND</span><span class="t" style="left:156.9px;top:53.0px;font-size:16.5px;font-weight:normal;-webkit-text-stroke:0.5px #d6d8de;color:#d6d8de;letter-spacing:-1.39px">DOLLAR</span><span class="t" style="left:222.3px;top:53.0px;font-size:16.5px;font-weight:normal;-webkit-text-stroke:0.5px #d6d8de;color:#d6d8de;letter-spacing:0.00px">/</span><span class="t" style="left:235.2px;top:53.0px;font-size:16.5px;font-weight:normal;-webkit-text-stroke:0.5px #d6d8de;color:#d6d8de;letter-spacing:-0.16px">U.S.</span><span class="t" style="left:272.5px;top:53.0px;font-size:16.5px;font-weight:normal;-webkit-text-stroke:0.5px #d6d8de;color:#d6d8de;letter-spacing:-1.37px">DOLLAR,</span><span class="t" style="left:342.0px;top:53.0px;font-size:16.5px;font-weight:normal;-webkit-text-stroke:0.5px #d6d8de;color:#d6d8de;letter-spacing:-1.12px">60,</span><span class="t" style="left:371.5px;top:53.0px;font-size:16.5px;font-weight:normal;-webkit-text-stroke:0.5px #d6d8de;color:#d6d8de;letter-spacing:-0.80px">FX_IDC</span><span class="t" style="left:450.5px;top:54.3px;font-size:15px;font-weight:normal;color:#d6d8de;letter-spacing:0.00px">O</span><span class="t" style="left:463.2px;top:54.3px;font-size:15px;font-weight:normal;color:#ef5350;letter-spacing:-0.39px">0.66487</span><span class="t" style="left:525.1px;top:54.3px;font-size:15px;font-weight:normal;color:#d6d8de;letter-spacing:0.00px">H</span><span class="t" style="left:535.9px;top:54.3px;font-size:15px;font-weight:normal;color:#ef5350;letter-spacing:-0.31px">0.66515</span><span class="t" style="left:598.3px;top:54.3px;font-size:15px;font-weight:normal;color:#d6d8de;letter-spacing:0.00px">L</span><span class="t" style="left:607.0px;top:54.3px;font-size:15px;font-weight:normal;color:#ef5350;letter-spacing:-0.32px">0.66410</span><span class="t" style="left:668.8px;top:54.3px;font-size:15px;font-weight:normal;color:#d6d8de;letter-spacing:0.00px">C</span><span class="t" style="left:678.8px;top:54.3px;font-size:15px;font-weight:normal;color:#ef5350;letter-spacing:-0.39px">0.66466</span><span class="t" style="left:5.4px;top:76.3px;font-size:12px;font-weight:normal;color:#e4e6ea;letter-spacing:-0.10px">EMA (100, close)</span><span class="t" style="left:189.5px;top:76.5px;font-size:11.5px;font-weight:normal;color:#4c82b8;letter-spacing:0.26px">0.6674</span><span class="t" style="left:5.4px;top:96.3px;font-size:12px;font-weight:normal;color:#e4e6ea;letter-spacing:-0.10px">EMA (200, close)</span><span class="t" style="left:189.5px;top:96.5px;font-size:11.5px;font-weight:normal;color:#ea1fe6;letter-spacing:0.20px">0.6671</span><span class="t" style="left:5.4px;top:116.3px;font-size:12px;font-weight:normal;color:#4b4f5b;letter-spacing:0.01px">BB (12, close, 2)</span><span class="t" style="left:5.4px;top:136.3px;font-size:12px;font-weight:normal;color:#e4e6ea;letter-spacing:-0.10px">EMA (50, close)</span><span class="t" style="left:183.3px;top:136.6px;font-size:11.5px;font-weight:normal;color:#21fb21;letter-spacing:0.16px">0.6665</span><span class="t" style="left:1131.1px;top:474.4px;font-size:11px;font-weight:bold;color:#ffffff;letter-spacing:0.22px">0.66466</span><span class="t" style="left:1142.9px;top:492.4px;font-size:11px;font-weight:bold;color:#ffffff;letter-spacing:-0.04px">35:19</span><span class="t" style="left:14.6px;top:813.3px;font-size:12px;font-weight:normal;color:#6f7583;letter-spacing:-0.74px">1D</span><span class="t" style="left:44.8px;top:813.3px;font-size:12px;font-weight:normal;color:#6f7583;letter-spacing:-0.44px">5D</span><span class="t" style="left:75.8px;top:813.3px;font-size:12px;font-weight:normal;color:#6f7583;letter-spacing:0.03px">1Mo</span><span class="t" style="left:114.2px;top:813.3px;font-size:12px;font-weight:normal;color:#6f7583;letter-spacing:0.53px">3Mo</span><span class="t" style="left:153.3px;top:813.3px;font-size:12px;font-weight:normal;color:#6f7583;letter-spacing:0.28px">6Mo</span><span class="t" style="left:192.5px;top:813.3px;font-size:12px;font-weight:normal;color:#6f7583;letter-spacing:-0.10px">YTD</span><span class="t" style="left:231.8px;top:813.3px;font-size:12px;font-weight:normal;color:#6f7583;letter-spacing:-0.79px">1Y</span><span class="t" style="left:261.3px;top:813.3px;font-size:12px;font-weight:normal;color:#6f7583;letter-spacing:0.71px">5Y</span><span class="t" style="left:291.8px;top:813.3px;font-size:12px;font-weight:normal;color:#6f7583;letter-spacing:1.28px">All</span><span class="t" style="left:334.8px;top:813.3px;font-size:12px;font-weight:normal;color:#6f7583;letter-spacing:1.08px">Go to...</span><span class="t" style="left:914.3px;top:812.0px;font-size:13.5px;font-weight:normal;color:#6f7583;letter-spacing:-0.32px">06:24:41 (UTC)</span><span class="t" style="left:1030.2px;top:811.0px;font-size:15.5px;font-weight:normal;color:#9da2ad;letter-spacing:0.00px">%</span><span class="t" style="left:1058.2px;top:811.3px;font-size:14px;font-weight:normal;color:#6f7583;letter-spacing:-0.09px">log</span><span class="t" style="left:1093.6px;top:811.3px;font-size:14px;font-weight:normal;color:#6f7583;letter-spacing:-0.08px">auto</span>
<!-- price axis -->





<!-- time axis -->
<div class="tl" style="left:0px">22</div><div class="tl" style="left:98px">23</div><div class="tl" style="left:197px">24</div><div class="tl" style="left:292px">27</div><div class="tl" style="left:390px">28</div><div class="tl" style="left:489px">29</div><div class="tl" style="left:588px">30</div><div class="tl" style="left:686px">31</div><div class="tl" style="left:777px">Sep</div><div class="tl" style="left:884px">4</div><div class="tl" style="left:983px">5</div><div class="tl" style="left:1081px">6</div>
<div style="position:absolute;left:1px;top:801px;width:1174px;height:1px;background:#2b2f3c"></div>
<!-- bottom toolbar -->
<div id="bot">

<div style="position:absolute;left:320px;top:808px;width:1px;height:20px;background:#2b2f3c"></div>


<div style="position:absolute;left:1017px;top:808px;width:1px;height:20px;background:#2b2f3c"></div>

</div>
<div style="position:absolute;left:983px;top:835.5px;width:192px;height:2.5px;background:#4a97d8"></div>
<div style="position:absolute;left:1140px;top:835px;width:1px;height:3px;background:#131722"></div>
</div></body></html>
